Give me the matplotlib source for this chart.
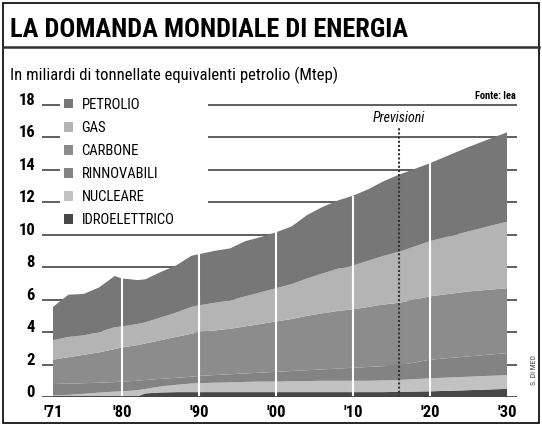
import matplotlib
matplotlib.use("Agg")
import matplotlib.pyplot as plt
from matplotlib import font_manager
from matplotlib.patches import Rectangle
from matplotlib.lines import Line2D
import numpy as np

# dati (Mtep, miliardi di tonnellate)
anni = [1971, 1973, 1975, 1977, 1979, 1980, 1982, 1983, 1985, 1987, 1989, 1990,
        1992, 1994, 1996, 1998, 2000, 2002, 2004, 2006, 2008, 2010, 2012, 2014,
        2016, 2020, 2025, 2030]

idroelettrico = [0.05, 0.05, 0.05, 0.05, 0.05, 0.05, 0.05, 0.22, 0.28, 0.3, 0.3, 0.3,
                 0.3, 0.3, 0.3, 0.3, 0.3, 0.3, 0.3, 0.3, 0.3, 0.3, 0.3, 0.3,
                 0.32, 0.35, 0.42, 0.5]
nucleare = [0.05, 0.08, 0.15, 0.22, 0.28, 0.30, 0.37, 0.28, 0.37, 0.45, 0.53, 0.55,
            0.58, 0.6, 0.63, 0.65, 0.65, 0.67, 0.68, 0.7, 0.7, 0.7, 0.7, 0.72,
            0.73, 0.8, 0.83, 0.85]
rinnovabili = [0.7, 0.69, 0.65, 0.61, 0.59, 0.6, 0.58, 0.55, 0.47, 0.43, 0.42, 0.45,
               0.47, 0.5, 0.52, 0.55, 0.6, 0.63, 0.67, 0.7, 0.75, 0.8, 0.85, 0.88,
               0.9, 1.15, 1.25, 1.35]
carbone = [1.5, 1.63, 1.75, 1.87, 2.03, 2.1, 2.2, 2.25, 2.38, 2.52, 2.65, 2.7,
           2.75, 2.8, 2.9, 3.0, 3.1, 3.2, 3.35, 3.45, 3.55, 3.6, 3.7, 3.8,
           3.85, 3.9, 4.0, 4.0]
gas = [1.2, 1.25, 1.2, 1.25, 1.35, 1.3, 1.3, 1.3, 1.4, 1.5, 1.65, 1.65,
       1.7, 1.75, 1.85, 1.95, 2.05, 2.15, 2.3, 2.45, 2.6, 2.7, 2.85, 3.0,
       3.15, 3.4, 3.7, 4.1]
petrolio = [2.05, 2.6, 2.55, 2.75, 3.15, 2.95, 2.7, 2.65, 2.8, 2.9, 3.15, 3.15,
            3.2, 3.2, 3.4, 3.4, 3.45, 3.55, 3.9, 4.1, 4.2, 4.3, 4.4, 4.6,
            4.75, 4.8, 5.2, 5.5]

fonti = ["IDROELETTRICO", "NUCLEARE", "RINNOVABILI", "CARBONE", "GAS", "PETROLIO"]
colori = ["#474747", "#c2c2c2", "#838383", "#8c8c8c", "#b4b4b4", "#777777"]

anni_tick = [1971, 1980, 1990, 2000, 2010, 2020, 2030]
etichette_x = ["'71", "'80", "'90", "'00", "'10", "'20", "'30"]
valori_y = [0, 2, 4, 6, 8, 10, 12, 14, 16, 18]
anno_previsioni = 2016

# font stretto se disponibile
nomi = {f.name for f in font_manager.fontManager.ttflist}
stretto = next((n for n in ["Liberation Sans Narrow", "DejaVu Sans Condensed", "Roboto Condensed"]
                if n in nomi), "Liberation Sans")
plt.rcParams['font.family'] = [stretto, 'DejaVu Sans']

W, H = 542, 426
fig = plt.figure(figsize=(W / 100, H / 100), dpi=100)

def fx(px):
    return px / W

def fy(py):
    return 1 - py / H

# cornice e titolo
fig.add_artist(Rectangle((fx(3), fy(423)), fx(536), 420 / H, fill=False,
                         edgecolor="black", lw=1.2, transform=fig.transFigure))
fig.add_artist(Line2D([fx(3), fx(539)], [fy(47), fy(47)], color="#333", lw=1.8,
                      transform=fig.transFigure))
fig.text(fx(10), fy(37), "LA DOMANDA MONDIALE DI ENERGIA", fontsize=19,
         fontweight="bold", ha="left", va="baseline")
fig.text(fx(10), fy(80), "In miliardi di tonnellate equivalenti petrolio (Mtep)",
         fontsize=12, ha="left", va="baseline")

ax = fig.add_axes([fx(42), fy(397), 475 / W, (397 - 95) / H])
x0, x1 = 1969.57, 2031.3
ax.set_xlim(x0, x1)
ax.set_ylim(0, 18.6)

# griglia orizzontale, interrotta dalla legenda in alto
leg_a, leg_b = 1971.9, 1991.1
for v in valori_y[1:]:
    if v >= 12:
        ax.hlines(v, x0, leg_a, color="#444", lw=1.2, zorder=1)
        ax.hlines(v, leg_b, x1, color="#444", lw=1.2, zorder=1)
    else:
        ax.hlines(v, x0, x1, color="#444", lw=1.2, zorder=1)

serie = [idroelettrico, nucleare, rinnovabili, carbone, gas, petrolio]
polys = ax.stackplot(anni, *serie, colors=colori, labels=fonti, lw=0, zorder=2)

totale = np.sum(serie, axis=0)
for a in [1980, 1990, 2000, 2010, 2020]:
    ax.vlines(a, 0, np.interp(a, anni, totale), color="white", lw=1.5, zorder=3)
ax.vlines(anno_previsioni, 0, 16.6, color="#333", lw=1.5, linestyles=(0, (1, 1)), zorder=4)
ax.text(anno_previsioni, 17.2, "Previsioni", style="italic", fontsize=10,
        ha="center", va="center")

ax.axhline(0, color="#444", lw=2, zorder=5)

ax.set_xticks(anni_tick)
ax.set_xticklabels(etichette_x, fontsize=12, fontweight="bold")
ax.set_yticks(valori_y)
ax.set_yticklabels([str(v) for v in valori_y], fontsize=12, fontweight="bold")
for t in ax.get_yticklabels():
    t.set_verticalalignment("baseline")
ax.tick_params(length=0, pad=5)
ax.tick_params(axis="x", pad=6)
for s in ax.spines.values():
    s.set_visible(False)
ax.set_facecolor("none")

h = polys[::-1]
ax.legend(h, fonti[::-1], loc="upper left", bbox_to_anchor=(fx(64), fy(98)),
          bbox_transform=fig.transFigure, frameon=False, fontsize=10.5,
          handlelength=0.6, handleheight=0.6, handletextpad=0.6,
          labelspacing=0.62, borderaxespad=0, borderpad=0)

fig.text(fx(516), fy(99), "Fonte: Iea", fontsize=7.5, fontweight="bold",
         ha="right", va="baseline")
fig.text(fx(534), fy(385), "S. DI MEO", fontsize=5.5, rotation=90,
         ha="center", va="bottom", color="#444")

fig.savefig("out.png", dpi=100)
